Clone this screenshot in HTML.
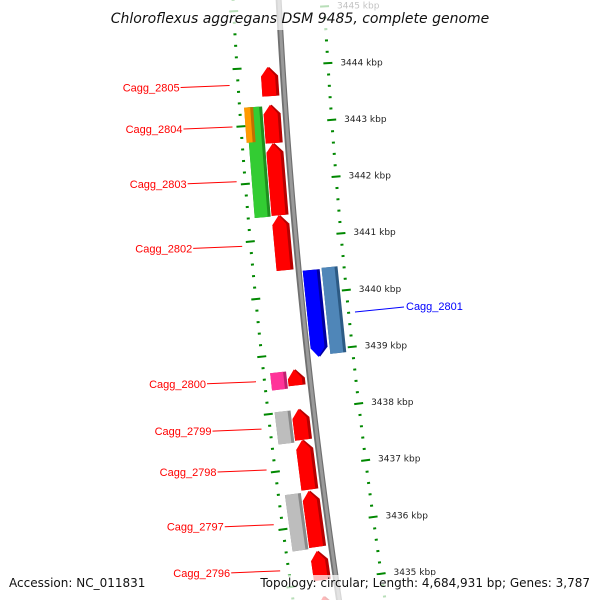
<!DOCTYPE html>
<html><head><meta charset="utf-8"><style>
html,body{margin:0;padding:0;background:#fff;width:600px;height:600px;overflow:hidden;}
svg{display:block;font-family:"Liberation Sans",sans-serif;overflow:hidden;}
</style></head><body>
<svg id="map" width="600" height="600" viewBox="0 0 600 600" xmlns="http://www.w3.org/2000/svg">
<rect width="600" height="600" fill="#fff"/>
<g id="ticks"></g>
<g id="genes"></g>
<rect x="0" y="0" width="600" height="30" fill="#fff" opacity="0.72"/>
<rect x="0" y="575" width="600" height="25" fill="#fff" opacity="0.72"/>
<g id="labels"></g>
<text x="300" y="23" text-anchor="middle" font-size="14" font-style="italic" fill="#111" font-family="DejaVu Sans, sans-serif">Chloroflexus aggregans DSM 9485, complete genome</text>
<text x="9" y="587" font-size="12" fill="#111" font-family="DejaVu Sans, sans-serif">Accession: NC_011831</text>
<text x="590" y="587" text-anchor="end" font-size="12" fill="#111" font-family="DejaVu Sans, sans-serif">Topology: circular; Length: 4,684,931 bp; Genes: 3,787</text>
</svg>
<script>
// Data
const geneStart = [3443.49, 3442.67, 3441.41, 3440.45, 3438.44, 3437.49, 3436.62, 3435.62, 3435.04, 3434.30, 3441.40, 3442.71, 3438.40, 3437.46, 3435.60, 3438.89, 3438.92];
const geneEnd   = [3444.00, 3443.34, 3442.67, 3441.41, 3438.72, 3438.03, 3437.49, 3436.60, 3435.55, 3434.76, 3443.32, 3443.32, 3438.70, 3438.02, 3436.58, 3440.41, 3440.43];
const geneStrand= [1,1,1,1,1,1,1,1,1,1, 0,0,0,0,0, -1,0];
const geneLane  = ["L1","L1","L1","L1","L1","L1","L1","L1","L1","L1","L2","L2o","L2","L2","L2","R1","R2"];
const geneColor = ["red","red","red","red","red","red","red","red","red","red","green","orange","pink","gray","gray","blue","steel"];
const tickMajors = [3445,3444,3443,3442,3441,3440,3439,3438,3437,3436,3435];
const labelNames = ["Cagg_2805","Cagg_2804","Cagg_2803","Cagg_2802","Cagg_2800","Cagg_2799","Cagg_2798","Cagg_2797","Cagg_2796"];
const labelKbp   = [3443.72,3443.0,3442.05,3440.93,3438.58,3437.76,3437.05,3436.10,3435.30];

const R=6300, cx=6570, cy=-330;
function yb(k){return 66+(3444-k)*57.15;}
function P(k,off){const phi=Math.asin((yb(k)-cy)/R);const r=R-off;return [cx-r*Math.cos(phi), cy+r*Math.sin(phi)];}
const NS="http://www.w3.org/2000/svg";
function mk(tag,attrs,parent){const e=document.createElementNS(NS,tag);for(const a in attrs)e.setAttribute(a,attrs[a]);parent.appendChild(e);return e;}
const lanes={L1:[-22,-5],L2:[-39,-23],L2o:[-41,-32],R1:[4,21],R2:[23,39]};
const pal={red:["#ff0000","#b80000"],green:["#33cc33","#1f8f1f"],orange:["#ff9900","#c07000"],pink:["#ff3399","#c0206f"],gray:["#bdbdbd","#8a8a8a"],blue:["#0000ff","#0000a0"],steel:["#4f86b8","#2c5a84"]};

const gb=document.getElementById('ticks');
function arcPts(off){let s=[];for(let k=3445.2;k>=3434.2;k-=0.1){const p=P(k,off);s.push(p[0].toFixed(2)+","+p[1].toFixed(2));}return s.join(" ");}
let bb=mk('polyline',{points:arcPts(0),fill:'none',stroke:'#707070','stroke-width':6},gb);


let bb2=mk('polyline',{points:arcPts(0.3),fill:'none',stroke:'#9a9a9a','stroke-width':3},gb);



for(let i=0;i<=54;i++){
  const k=3445.2-i*0.2;
  const maj=Math.abs(k-Math.round(k))<0.01;
  for(const side of [-1,1]){
    const a=P(k,side*(maj?41:44)), b=P(k,side*(maj?50:47));
    const t=mk('line',{x1:a[0],y1:a[1],x2:b[0],y2:b[1],stroke:'#008800','stroke-width':2},gb);
    
    
  }
}
tickMajors.forEach(k=>{
  const p=P(k,58);
  const t=mk('text',{x:p[0],y:p[1]+3,'font-size':9,fill:'#222','font-family':'DejaVu Sans, sans-serif'},gb);
  t.textContent=k+" kbp";
  
  
});

const gg=document.getElementById('genes');
function shape(s,e,o1,o2,strand){
  const h=Math.min(0.16,(e-s)*0.6), m=(o1+o2)/2;
  let pts;
  if(strand>0) pts=[P(s,o1),P(s,o2),P(e-h,o2),P(e,m),P(e-h,o1)];
  else if(strand<0) pts=[P(e,o1),P(e,o2),P(s+h,o2),P(s,m),P(s+h,o1)];
  else pts=[P(s,o1),P(s,o2),P(e,o2),P(e,o1)];
  return pts.map(p=>p[0].toFixed(2)+","+p[1].toFixed(2)).join(" ");
}
for(let i=0;i<geneStart.length;i++){
  const [o1,o2]=lanes[geneLane[i]]; const c=pal[geneColor[i]];
  const d=mk('polygon',{points:shape(geneStart[i],geneEnd[i],o1,o2,geneStrand[i]),fill:c[1]},gg);
  
  
  const f=mk('polygon',{points:shape(geneStart[i],geneEnd[i],o1,o2-3,geneStrand[i]),fill:c[0]},gg);
  
  
}

const gl=document.getElementById('labels');
for(let i=0;i<labelNames.length;i++){
  const e=P(labelKbp[i],-54);
  const tx=e[0]-49, ty=e[1]+2;
  const l=mk('line',{x1:tx,y1:ty,x2:e[0],y2:e[1],stroke:'#ff0000','stroke-width':1},gl);
  
  
  const t=mk('text',{x:tx-1,y:ty+4,'text-anchor':'end','font-size':11,fill:'#ff0000'},gl);
  t.textContent=labelNames[i];
  
  
}
const bl=mk('line',{x1:355,y1:312,x2:404,y2:307,stroke:'#0000ff','stroke-width':1},gl);


const bt=mk('text',{x:406,y:310,'font-size':11,fill:'#0000ff'},gl);
bt.textContent="Cagg_2801";


</script>
</body></html>
